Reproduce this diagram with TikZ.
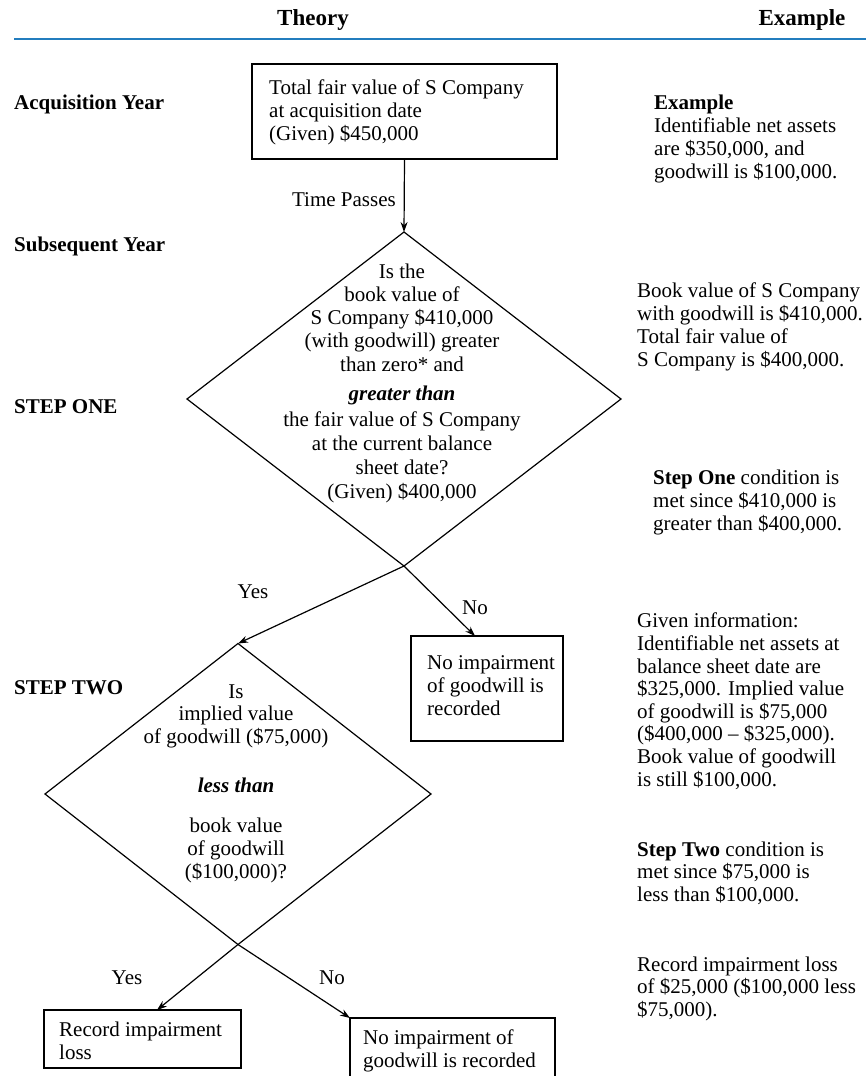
\documentclass[tikz,border=0pt]{standalone}
\usepackage{fontspec}
\setmainfont{Liberation Serif}
\usetikzlibrary{shapes.geometric,arrows.meta}
\definecolor{rulebl}{RGB}{35,125,190}
\tikzset{
  body/.style={font=\fontsize{21}{23}\selectfont},
  txt/.style={body, inner sep=0pt, align=left, anchor=base west},
  ctxt/.style={inner sep=0pt, align=center, anchor=base},
  lbl/.style={inner sep=0pt, font=\fontsize{21}{23}\selectfont\bfseries, anchor=base west},
  head/.style={inner sep=0pt, font=\fontsize{23}{26}\selectfont\bfseries, anchor=base},
  box/.style={draw, line width=1.2pt, anchor=north west, inner sep=0pt, outer sep=0pt},
  dec/.style={draw, diamond, line width=1.2pt, inner sep=0pt, outer sep=0pt},
  flow/.style={line width=1.2pt, -{Stealth[length=10pt,width=7pt]}},
}
\begin{document}
\begin{tikzpicture}[x=1pt, y=-1pt]
\useasboundingbox (0,0) rectangle (866,1076);
\clip (0,0) rectangle (866,1076);

% column heads and rule
\node[head] (hT) at (313,25) {Theory};
\node[head] (hE) at (802,25) {Example};
\coordinate (rl) at (14,39);
\coordinate (rr) at (866,39);
\draw[rulebl, line width=2pt] (rl) -- (rr);

% stage labels
\node[lbl] (lAcq) at (14,109) {Acquisition Year};
\node[lbl] (lSub) at (14,251) {Subsequent Year};
\node[lbl] (lS1) at (14,413) {STEP ONE};
\node[lbl] (lS2) at (14,694) {STEP TWO};

% shapes of the flow chart
\node[box, minimum width=305pt, minimum height=95pt] (b1) at (252,64) {};
\node[dec, minimum width=434pt, minimum height=334pt] (d1) at (404,399) {};
\node[box, minimum width=152pt, minimum height=105pt] (nb1) at (411,636) {};
\node[dec, minimum width=386pt, minimum height=301pt] (d2) at (238,794) {};
\node[box, minimum width=197pt, minimum height=58pt] (rb) at (44,1010) {};
\node[box, minimum width=205pt, minimum height=90pt] (nb2) at (350,1018) {};

% texts inside the shapes (each placed by the baseline of its last line)
\node[txt] (b1t) at (269,140) {Total fair value of S Company\\at acquisition date\\(Given) \$450,000};
\node[ctxt, font=\fontsize{21}{23.25}\selectfont] (d1a) at (402,371)
  {Is the\\book value of\\S Company \$410,000\\(with goodwill) greater\\than zero* and};
\node[ctxt, font=\fontsize{21}{23}\selectfont\bfseries\itshape] (d1g) at (402,400) {greater than};
\node[ctxt, font=\fontsize{21}{24}\selectfont] (d1b) at (402,498)
  {the fair value of S Company\\at the current balance\\sheet date?\\(Given) \$400,000};
\node[txt] (nb1t) at (427,715) {No impairment\\of goodwill is\\recorded};
\node[ctxt, font=\fontsize{21}{22.5}\selectfont] (d2a) at (236,743)
  {Is\\implied value\\of goodwill (\$75,000)};
\node[ctxt, font=\fontsize{21}{23}\selectfont\bfseries\itshape] (d2l) at (236,792) {less than};
\node[ctxt, font=\fontsize{21}{23}\selectfont] (d2b) at (236,878)
  {book value\\of goodwill\\(\$100,000)?};
\node[txt] (rbt) at (59,1059) {Record impairment\\loss};
\node[txt] (nb2t) at (363,1067) {No impairment of\\goodwill is recorded};

% connectors
\draw[flow] (b1.south) -- (d1.north);
\node[body, inner sep=0pt, anchor=base east] (tp) at (396,206) {Time Passes};
\draw[flow] (d1.south) -- (d2.north);
\draw[flow] (d1.south) -- ([xshift=64pt]nb1.north west);
\node[body, inner sep=0pt, anchor=base] (y1) at (253,598) {Yes};
\node[body, inner sep=0pt, anchor=base] (n1) at (475,614) {No};
\draw[flow] (d2.south) -- ([xshift=113pt]rb.north west);
\draw[flow] (d2.south) -- (nb2.north west);
\node[body, inner sep=0pt, anchor=base] (y2) at (127,984) {Yes};
\node[body, inner sep=0pt, anchor=base] (n2) at (332,984) {No};

% worked example column
\node[txt, font=\fontsize{21}{22.7}\selectfont] (ex1) at (654,178)
  {\textbf{Example}\\Identifiable net assets\\are \$350,000, and\\goodwill is \$100,000.};
\node[txt, font=\fontsize{21}{23}\selectfont] (ex2) at (637,366)
  {Book value of S Company\\with goodwill is \$410,000.\\Total fair value of\\S Company is \$400,000.};
\node[txt, font=\fontsize{21}{23}\selectfont] (ex3) at (653,530)
  {\textbf{Step One} condition is\\met since \$410,000 is\\greater than \$400,000.};
\node[txt, font=\fontsize{21}{22.6}\selectfont] (ex4) at (637,786)
  {Given information:\\Identifiable net assets at\\balance sheet date are\\\$325,000. Implied value\\of goodwill is \$75,000\\(\$400,000 – \$325,000).\\Book value of goodwill\\is still \$100,000.};
\node[txt, font=\fontsize{21}{22.5}\selectfont] (ex5) at (637,901)
  {\textbf{Step Two} condition is\\met since \$75,000 is\\less than \$100,000.};
\node[txt, font=\fontsize{21}{22.5}\selectfont] (ex6) at (637,1016)
  {Record impairment loss\\of \$25,000 (\$100,000 less\\\$75,000).};
\end{tikzpicture}
\end{document}
